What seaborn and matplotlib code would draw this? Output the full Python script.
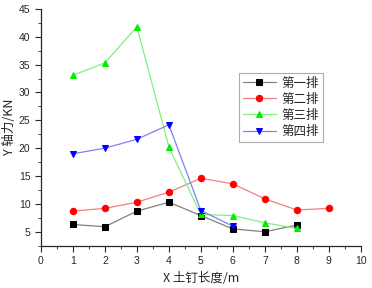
import numpy as np
import pandas as pd
import matplotlib
matplotlib.use("Agg")
import matplotlib.pyplot as plt
import seaborn as sns

# 数据
names = ['第一排', '第二排', '第三排', '第四排']
x1 = [1, 2, 3, 4, 5, 6, 7, 8]
y1 = [6.3, 5.9, 8.7, 10.3, 7.9, 5.5, 5.0, 6.2]
x2 = [1, 2, 3, 4, 5, 6, 7, 8, 9]
y2 = [8.7, 9.2, 10.3, 12.1, 14.6, 13.6, 10.9, 8.9, 9.2]
x3 = [1, 2, 3, 4, 5, 6, 7, 8]
y3 = [33.1, 35.3, 41.8, 20.2, 8.1, 7.9, 6.6, 5.6]
x4 = [1, 2, 3, 4, 5, 6]
y4 = [19.0, 20.0, 21.6, 24.2, 8.8, 6.0]

xs = [x1, x2, x3, x4]
ys = [y1, y2, y3, y4]
markers = ['s', 'o', '^', 'v']
mark_colors = ['#000000', '#ff0000', '#00ee00', '#0000ff']
line_colors = ['#808080', '#f08080', '#80f080', '#8080f0']

sns.set_style('ticks')
plt.rcParams['font.family'] = ['Liberation Sans', 'Noto Sans CJK SC', 'DejaVu Sans']

fig = plt.figure(figsize=(3.72, 2.88), dpi=100)
ax = fig.add_axes([0.110, 0.147, 0.860, 0.822])

for name, x, y, m, mc, lc in zip(names, xs, ys, markers, mark_colors, line_colors):
    df = pd.DataFrame({'x': x, 'y': y})
    sns.lineplot(data=df, x='x', y='y', ax=ax, color=lc, lw=0.9,
                 marker=m, markersize=4.6, markerfacecolor=mc,
                 markeredgecolor=mc, label=name)

ax.set_xlim(0, 10)
ax.set_ylim(2.5, 45)
ax.set_xticks(range(0, 11))
ax.set_yticks(range(5, 46, 5))
ax.set_xticks(np.arange(0.5, 10, 1), minor=True)
ax.set_yticks(np.arange(2.5, 45, 5), minor=True)
ax.tick_params(axis='both', which='major', labelsize=7.5, length=4, width=0.8, direction='out')
ax.tick_params(axis='both', which='minor', length=2, width=0.6, direction='out')
for s in ['left', 'bottom']:
    ax.spines[s].set_linewidth(0.9)
sns.despine(ax=ax)

ax.set_xlabel('X 土钉长度/m', fontsize=9, family=['Noto Sans CJK SC', 'DejaVu Sans'])
ax.set_ylabel('Y 轴力/KN', fontsize=9, family=['Noto Sans CJK SC', 'DejaVu Sans'], labelpad=2)

leg = ax.legend(loc='upper left', bbox_to_anchor=(0.62, 0.73),
                prop={'family': ['Noto Sans CJK SC'], 'size': 9},
                frameon=True, fancybox=False, handlelength=2.6,
                borderpad=0.3, labelspacing=0.25, handletextpad=0.5,
                borderaxespad=0)
leg.get_frame().set_edgecolor('#999999')
leg.get_frame().set_linewidth(0.8)

fig.savefig('out.png', dpi=100)
